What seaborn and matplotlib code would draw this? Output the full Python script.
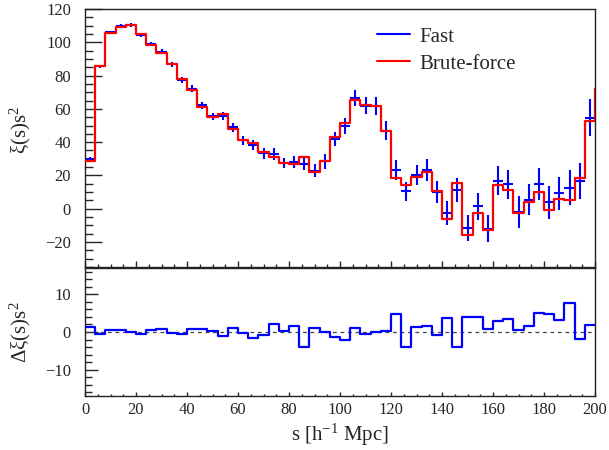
import numpy as np
import matplotlib
matplotlib.use("Agg")
import matplotlib.pyplot as plt
import seaborn as sns
from matplotlib.lines import Line2D
from matplotlib.ticker import MultipleLocator

# bins of 4 h^-1 Mpc from 0 to 200 (plus one bin past the edge for brute-force)
bin_edges = list(range(0, 208, 4))
s_centers = list(range(2, 204, 4))

xi_brute = [28.8, 86.0, 105.6, 109.4, 110.6, 105.2, 98.4, 93.8, 87.0, 77.8,
            71.4, 61.4, 55.4, 56.8, 48.0, 41.4, 39.6, 34.0, 30.8, 27.2,
            26.6, 30.8, 21.8, 28.4, 43.2, 51.6, 65.4, 62.6, 62.0, 46.6,
            18.6, 14.2, 18.8, 22.0, 10.8, -6.4, 15.2, -15.6, -2.6, -12.8,
            14.0, 11.2, -2.8, 4.0, 9.8, -1.0, 6.0, 5.0, 18.4, 53.0,
            72.0]

xi_fast = [29.8, 85.5, 106.0, 109.8, 110.5, 104.6, 98.8, 94.4, 86.8, 77.4,
           72.1, 62.1, 55.6, 55.7, 49.0, 41.2, 38.4, 33.3, 32.9, 27.5,
           28.1, 26.8, 22.8, 28.4, 41.9, 49.6, 66.6, 62.0, 61.9, 46.8,
           23.5, 10.4, 20.2, 23.3, 10.1, -2.6, 11.3, -11.6, 1.5, -11.9,
           16.9, 14.6, -2.2, 5.5, 14.8, 3.9, 9.3, 12.6, 16.5, 54.8]

xi_fast_err = [1.0, 1.0, 1.0, 1.0, 1.1, 1.2, 1.2, 1.3, 1.5, 1.9,
               2.2, 2.0, 2.0, 2.4, 2.6, 2.7, 3.0, 3.2, 3.4, 3.2,
               3.6, 3.4, 3.8, 4.3, 4.5, 4.8, 5.0, 5.3, 5.5, 5.7,
               6.0, 5.8, 6.2, 6.7, 6.7, 7.2, 7.4, 7.7, 8.0, 8.0,
               8.5, 8.8, 9.6, 9.3, 9.5, 9.8, 10.0, 10.5, 10.8, 11.0]

delta_xi = [1.2, -0.6, 0.5, 0.4, -0.1, -0.6, 0.4, 0.7, -0.2, -0.4,
            0.7, 0.7, 0.2, -1.1, 1.0, -0.2, -1.5, -0.7, 2.1, 0.3,
            1.5, -4.0, 1.0, 0.0, -1.3, -2.0, 1.1, -0.6, -0.1, 0.2,
            4.9, -3.9, 1.4, 1.5, -0.7, 3.8, -3.9, 4.0, 4.1, 0.9,
            2.9, 3.4, 0.6, 1.5, 5.0, 4.9, 3.3, 7.6, -1.9, 1.8]

sns.set_style("ticks")
plt.rcParams["font.family"] = ["Liberation Serif", "DejaVu Serif"]
plt.rcParams["mathtext.fontset"] = "custom"
plt.rcParams["mathtext.rm"] = "Liberation Serif"
plt.rcParams["mathtext.it"] = "Liberation Serif:italic"

BLUE = "#0000ff"
RED = "#ff0000"

fig = plt.figure(figsize=(6.09, 4.5), dpi=100)
ax = fig.add_axes([85/609, 1 - 267/450, 510/609, 258/450])
ax2 = fig.add_axes([85/609, 1 - 396/450, 510/609, 128/450])

n = len(xi_fast)
# Fast: crosses with error bars
ax.errorbar(s_centers[:n], xi_fast, yerr=xi_fast_err, xerr=2, fmt="none",
            ecolor=BLUE, elinewidth=1.5, capsize=0, zorder=2)
# Brute-force: step histogram
sns.histplot(x=s_centers, weights=xi_brute, bins=bin_edges, element="step",
             fill=False, color=RED, linewidth=1.6, ax=ax, zorder=3)

ax.set_xlim(0, 200)
ax.set_ylim(-35, 120)
ax.set_ylabel(r"ξ(s)s$^{2}$", fontsize=15)
ax.set_xlabel("")
ax.yaxis.set_label_coords(-0.102, 0.53)
ax.xaxis.set_major_locator(MultipleLocator(20))
ax.xaxis.set_minor_locator(MultipleLocator(5))
ax.yaxis.set_major_locator(MultipleLocator(20))
ax.yaxis.set_minor_locator(MultipleLocator(5))
ax.tick_params(axis="y", which="major", direction="in", length=12, width=1, labelsize=12, pad=10)
ax.tick_params(axis="y", which="minor", direction="in", length=6, width=1)
ax.tick_params(axis="x", which="major", direction="in", length=4.5, width=1, labelbottom=False)
ax.tick_params(axis="x", which="minor", direction="in", length=2.2, width=1)

handles = [Line2D([], [], color=BLUE, lw=1.5), Line2D([], [], color=RED, lw=1.5)]
ax.legend(handles, ["Fast", "Brute-force"], loc="upper left",
          bbox_to_anchor=(0.572, 0.93), frameon=False, fontsize=15,
          handlelength=1.6, handletextpad=0.45, labelspacing=0.35,
          borderpad=0, borderaxespad=0)

# difference panel
sns.histplot(x=s_centers[:n], weights=delta_xi, bins=bin_edges[:n + 1], element="step",
             fill=False, color=BLUE, linewidth=1.6, ax=ax2, zorder=3)
ax2.axhline(0, color="#444444", ls=(0, (3, 3)), lw=0.9, zorder=2)
ax2.set_xlim(0, 200)
ax2.set_ylim(-17, 17)
ax2.set_ylabel(r"Δξ(s)s$^{2}$", fontsize=15)
ax2.yaxis.set_label_coords(-0.102, 0.5)
ax2.set_xlabel(r"s [h$^{-1}$ Mpc]", fontsize=15, labelpad=3)
ax2.xaxis.set_major_locator(MultipleLocator(20))
ax2.xaxis.set_minor_locator(MultipleLocator(5))
ax2.yaxis.set_major_locator(MultipleLocator(10))
ax2.yaxis.set_minor_locator(MultipleLocator(2))
ax2.tick_params(axis="y", which="major", direction="in", length=9.4, width=1, labelsize=12, pad=10)
ax2.tick_params(axis="y", which="minor", direction="in", length=5, width=1)
ax2.tick_params(axis="x", which="major", direction="in", length=3, width=1, labelsize=12, pad=4)
ax2.tick_params(axis="x", which="minor", direction="in", length=1.5, width=1)

for a in (ax, ax2):
    for sp in a.spines.values():
        sp.set_linewidth(1.0)
        sp.set_color("#222222")

fig.savefig("out.png", dpi=100)
